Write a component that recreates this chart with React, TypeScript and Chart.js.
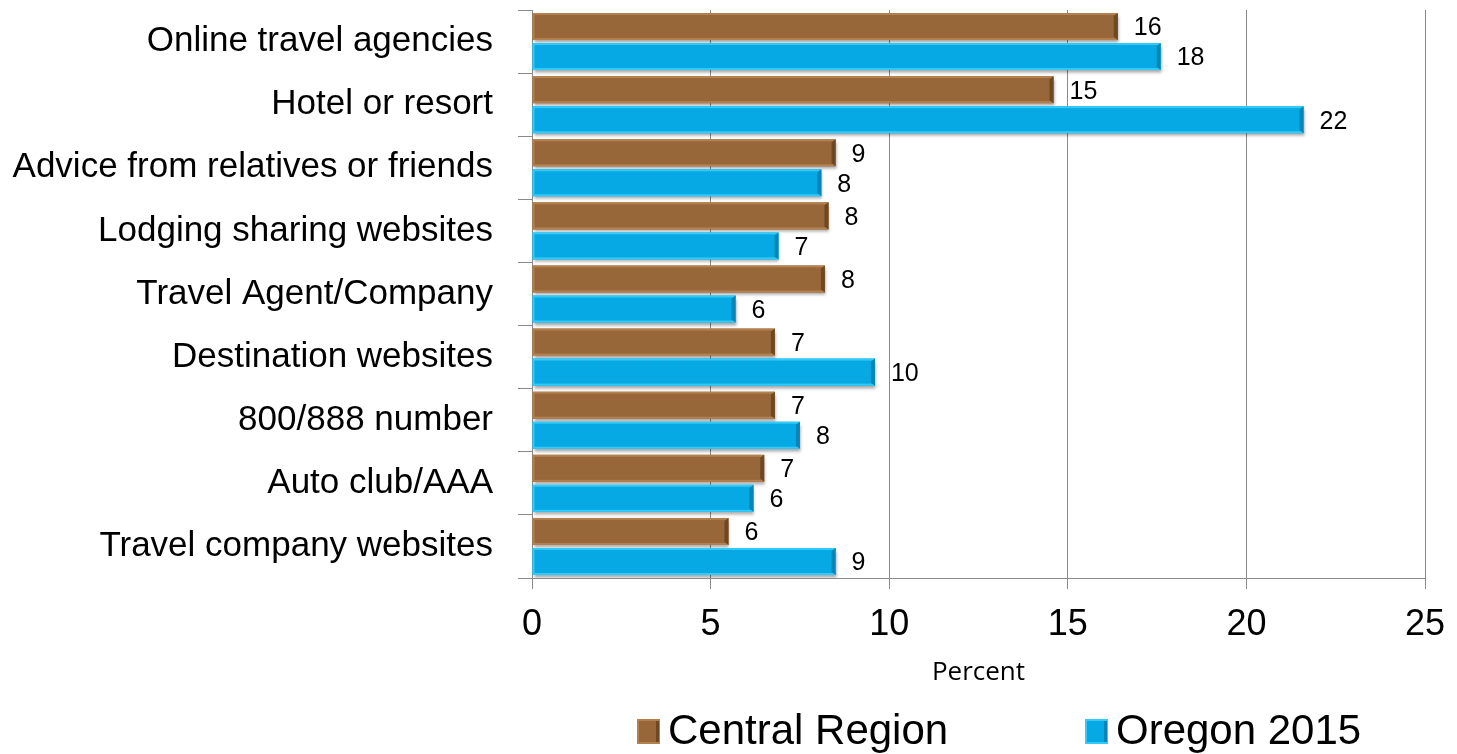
import React, { useEffect, useRef } from "react";
import { Chart, registerables } from "chart.js";

Chart.register(...registerables);

const categories = [
  "Online travel agencies",
  "Hotel or resort",
  "Advice from relatives or friends",
  "Lodging sharing websites",
  "Travel Agent/Company",
  "Destination websites",
  "800/888 number",
  "Auto club/AAA",
  "Travel company websites",
];
const centralRegion = [16.4, 14.6, 8.5, 8.3, 8.2, 6.8, 6.8, 6.5, 5.5];
const oregon2015 = [17.6, 21.6, 8.1, 6.9, 5.7, 9.6, 7.5, 6.2, 8.5];
const seriesNames = ["Central Region", "Oregon 2015"];
const xTicks = [0, 5, 10, 15, 20, 25];

const COLORS = [
  { body: "#976639", light: "#B3804F", dark: "#6E4823" },
  { body: "#07A9E4", light: "#34CAF7", dark: "#0585B8" },
];

const ARIAL = "'Liberation Sans', Arial, sans-serif";

const bevelPlugin = {
  id: "bevel",
  beforeDatasetsDraw(chart: any) {
    const ctx = chart.ctx;
    ctx.save();
    ctx.shadowColor = "rgba(0,0,0,0.35)";
    ctx.shadowOffsetX = 1;
    ctx.shadowOffsetY = 3;
    ctx.shadowBlur = 3;
  },
  afterDatasetsDraw(chart: any) {
    const ctx = chart.ctx;
    ctx.restore();
    ctx.save();
    chart.data.datasets.forEach((ds: any, di: number) => {
      const meta = chart.getDatasetMeta(di);
      const c = COLORS[di];
      meta.data.forEach((el: any, i: number) => {
        const p = el.getProps(["x", "y", "base", "height"], true);
        const left = Math.min(p.base, p.x);
        const right = Math.max(p.base, p.x);
        const top = p.y - p.height / 2;
        const bottom = p.y + p.height / 2;
        ctx.strokeStyle = c.light;
        ctx.lineWidth = 2;
        ctx.strokeRect(left + 1, top + 1, right - left - 2, bottom - top - 2);
        ctx.fillStyle = c.dark;
        ctx.beginPath();
        ctx.moveTo(right - 4, top + 3);
        ctx.lineTo(right, top);
        ctx.lineTo(right, bottom);
        ctx.lineTo(right - 4, bottom - 3);
        ctx.closePath();
        ctx.fill();
        ctx.fillStyle = "#000";
        ctx.font = `25px ${ARIAL}`;
        ctx.textAlign = "left";
        ctx.textBaseline = "middle";
        ctx.fillText(String(Math.round(ds.data[i])), right + 16, p.y + 2);
      });
    });
    ctx.restore();
  },
};

const legendPlugin = {
  id: "customLegend",
  afterDraw(chart: any) {
    const ctx = chart.ctx;
    const cy = chart.height - 23;
    const starts = [637, 1085];
    ctx.save();
    seriesNames.forEach((name, i) => {
      const c = COLORS[i];
      const x = starts[i];
      ctx.fillStyle = c.body;
      ctx.fillRect(x, cy - 12, 23, 25);
      ctx.strokeStyle = c.light;
      ctx.lineWidth = 2;
      ctx.strokeRect(x + 1, cy - 11, 21, 23);
      ctx.fillStyle = c.dark;
      ctx.fillRect(x + 19, cy - 10, 3, 21);
      ctx.fillStyle = "#000";
      ctx.font = `42px ${ARIAL}`;
      ctx.textAlign = "left";
      ctx.textBaseline = "middle";
      ctx.fillText(name, x + 31, cy + 1);
    });
    ctx.restore();
  },
};

export default function App() {
  const ref = useRef<HTMLCanvasElement>(null);
  useEffect(() => {
    document.body.style.margin = "0";
    document.documentElement.style.overflow = "hidden";
    const chart = new Chart(ref.current as HTMLCanvasElement, {
      type: "bar",
      data: {
        labels: categories,
        datasets: [
          {
            label: seriesNames[0],
            data: centralRegion,
            backgroundColor: COLORS[0].body,
            categoryPercentage: 0.952,
            barPercentage: 0.9,
          },
          {
            label: seriesNames[1],
            data: oregon2015,
            backgroundColor: COLORS[1].body,
            categoryPercentage: 0.952,
            barPercentage: 0.9,
          },
        ],
      },
      options: {
        indexAxis: "y",
        animation: false,
        responsive: false,
        layout: { padding: { left: 0, right: 32, top: 10, bottom: 66 } },
        plugins: {
          legend: { display: false },
          tooltip: { enabled: false },
        },
        scales: {
          x: {
            min: 0,
            max: 25,
            afterBuildTicks(scale: any) {
              scale.ticks = xTicks.map((v) => ({ value: v }));
            },
            afterFit(scale: any) {
              scale.height = 110;
              scale.paddingLeft = 0;
              scale.paddingRight = 0;
            },
            grid: {
              color: "#8a8a8a",
              lineWidth: 1,
              tickLength: 11,
              drawTicks: true,
            },
            border: { display: true, color: "#8a8a8a", width: 1 },
            ticks: {
              color: "#000",
              font: { family: ARIAL, size: 36 },
              padding: 14,
              maxRotation: 0,
            },
            title: {
              display: true,
              text: "Percent",
              color: "#000",
              font: { family: "'Open Sans', sans-serif", size: 26 },
              padding: { top: 0, bottom: 0 },
            },
          },
          y: {
            afterFit(scale: any) {
              scale.width = 532;
              scale.paddingTop = 0;
              scale.paddingBottom = 0;
            },
            grid: {
              drawOnChartArea: false,
              drawTicks: true,
              tickLength: 14,
              color: "#8a8a8a",
              offset: true,
            },
            border: { display: true, color: "#8a8a8a", width: 1 },
            ticks: {
              color: "#000",
              font: { family: ARIAL, size: 35 },
              padding: 25,
            },
          },
        },
      },
      plugins: [bevelPlugin, legendPlugin],
    } as any);
    return () => chart.destroy();
  }, []);
  return (
    <canvas
      ref={ref}
      width={1457}
      height={754}
      style={{ display: "block", width: 1457, height: 754 }}
    />
  );
}
